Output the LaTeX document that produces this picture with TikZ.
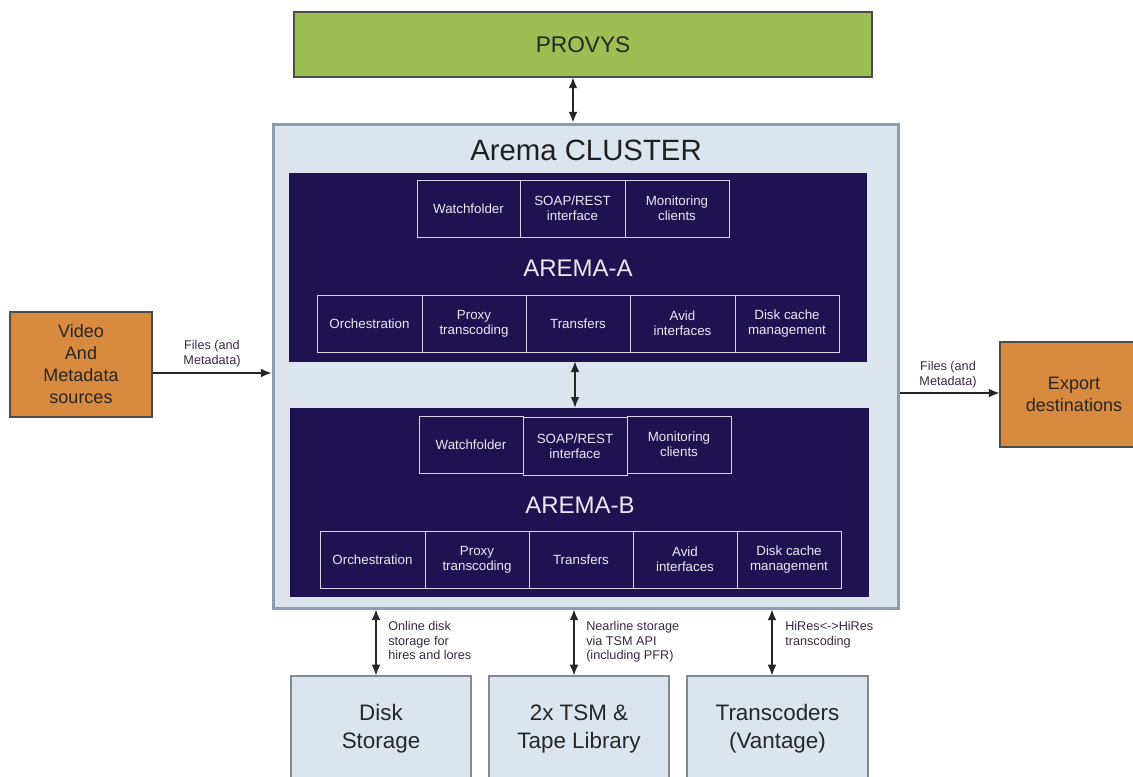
\documentclass[tikz,border=0pt]{standalone}
\usepackage{fontspec}
\setmainfont{Liberation Sans}
\usetikzlibrary{arrows.meta}
\definecolor{provysg}{HTML}{9CBE52}
\definecolor{clusterfill}{HTML}{DCE5EE}
\definecolor{clusterline}{HTML}{8E9CAF}
\definecolor{darkbg}{HTML}{1F1250}
\definecolor{celline}{HTML}{D8D2E6}
\definecolor{celltext}{HTML}{ECE8F4}
\definecolor{orangef}{HTML}{D88A3E}
\definecolor{storeline}{HTML}{7E8A98}
\definecolor{lbltext}{HTML}{3B2A45}
\newcommand\pbox[7]{%
  \pgfmathsetmacro\pbw{abs(#5-#3)*0.75}%
  \pgfmathsetmacro\pbh{abs(#6-#4)*0.75}%
  \node[#1,minimum width=\pbw pt,minimum height=\pbh pt] (#2) at ({(#3+#5)/2},{(#4+#6)/2}) {#7};}
\tikzset{
  provysbox/.style={fill=provysg, draw=black!70, line width=0.8pt, inner sep=0pt, font=\fontsize{17}{20}\selectfont, text=black!85},
  clusterbox/.style={fill=clusterfill, draw=clusterline, line width=2.25pt, inner sep=0pt},
  darkbox/.style={fill=darkbg, draw=darkbg, line width=0.5pt, inner sep=0pt},
  cell/.style={draw=celline, line width=0.75pt, text=celltext, inner sep=0pt, align=center, font=\fontsize{10}{11.5}\selectfont},
  orangebox/.style={fill=orangef, draw=black!70, line width=0.8pt, inner sep=0pt, align=center, font=\fontsize{13.5}{16.5}\selectfont, text=black!85},
  storebox/.style={fill=clusterfill, draw=storeline, line width=0.9pt, inner sep=0pt, align=center, font=\fontsize{16.8}{21}\selectfont, text=black!85},
  lbl/.style={align=left, font=\fontsize{9.5}{11}\selectfont, text=lbltext, inner sep=0pt},
  lblc/.style={align=center, font=\fontsize{9.5}{11}\selectfont, text=lbltext, inner sep=0pt},
  title/.style={inner sep=0pt, text=black!88},
  conn/.style={line width=0.9pt, draw=black!85, {Latex[length=8pt,width=6.5pt]}-{Latex[length=8pt,width=6.5pt]}},
  conn1/.style={line width=0.9pt, draw=black!85, -{Latex[length=8pt,width=6.5pt]}}
}
\begin{document}
\begin{tikzpicture}[x=0.75pt,y=-0.75pt]
\useasboundingbox (0,0) rectangle (1133,776);
\fill[white] (0,0) rectangle (1133,776);
% top
\pbox{provysbox}{provys}{294}{12}{872}{77}{PROVYS}
% cluster
\pbox{clusterbox}{cluster}{273}{124}{898}{608}{}
\node[title, font=\fontsize{22}{26}\selectfont] (ctitle) at (586,150) {Arema CLUSTER};
% AREMA-A
\pbox{darkbox}{aremaA}{289}{173}{866}{361}{}
\pbox{cell}{aW}{417}{180}{520}{237}{Watchfolder}
\pbox{cell}{aS}{520}{180}{625}{237}{SOAP/REST\\interface}
\pbox{cell}{aM}{625}{180}{729}{237}{Monitoring\\clients}
\node[title, text=celltext, font=\fontsize{18}{21}\selectfont] (aname) at (578,268) {AREMA-A};
\pbox{cell}{aO}{317}{295}{422}{352}{Orchestration}
\pbox{cell}{aP}{422}{295}{526}{352}{Proxy\\transcoding}
\pbox{cell}{aT}{526}{295}{630}{352}{Transfers}
\pbox{cell}{aA}{630}{295}{735}{352}{Avid\\interfaces}
\pbox{cell}{aD}{735}{295}{839}{352}{Disk cache\\management}
% AREMA-B
\pbox{darkbox}{aremaB}{290}{408}{868}{596}{}
\pbox{cell}{bW}{419}{416}{523}{473}{Watchfolder}
\pbox{cell}{bS}{523}{417}{627}{475}{SOAP/REST\\interface}
\pbox{cell}{bM}{627}{416}{731}{473}{Monitoring\\clients}
\node[title, text=celltext, font=\fontsize{18}{21}\selectfont] (bname) at (580,505) {AREMA-B};
\pbox{cell}{bO}{320}{531}{425}{588}{Orchestration}
\pbox{cell}{bP}{425}{531}{529}{588}{Proxy\\transcoding}
\pbox{cell}{bT}{529}{531}{633}{588}{Transfers}
\pbox{cell}{bA}{633}{531}{737}{588}{Avid\\interfaces}
\pbox{cell}{bD}{737}{531}{841}{588}{Disk cache\\management}
% sides
\pbox{orangebox}{src}{10}{312}{152}{417}{Video\\And\\Metadata\\sources}
\pbox{orangebox}{export}{1000}{342}{1148}{447}{Export\\destinations}
% bottom
\pbox{storebox}{disk}{291}{676}{471}{782}{Disk\\Storage}
\pbox{storebox}{tsm}{489}{676}{669}{782}{2x TSM \&\\Tape Library}
\pbox{storebox}{trans}{687}{676}{868}{782}{Transcoders\\(Vantage)}
% connectors
\coordinate (xa) at (573,0);
\coordinate (xb) at (575,0);
\coordinate (yl) at (0,373);
\coordinate (yr) at (0,393);
\coordinate (x1) at (376,0);
\coordinate (x2) at (574,0);
\coordinate (x3) at (772,0);
\draw[conn] (provys.south -| xa) -- (cluster.north -| xa);
\draw[conn] (aremaA.south -| xb) -- (aremaB.north -| xb);
\draw[conn1] (src.east |- yl) -- (cluster.west |- yl);
\draw[conn1] (cluster.east |- yr) -- (export.west |- yr);
\draw[conn] (cluster.south -| x1) -- (disk.north -| x1);
\draw[conn] (cluster.south -| x2) -- (tsm.north -| x2);
\draw[conn] (cluster.south -| x3) -- (trans.north -| x3);
% labels
\node[lblc, anchor=south] (lL) at (212,367) {Files (and\\Metadata)};
\node[lblc, anchor=south] (lR) at (948,388) {Files (and\\Metadata)};
\node[lbl, anchor=north west] (l1) at (388,621) {Online disk\\storage for\\hires and lores};
\node[lbl, anchor=north west] (l2) at (586,621) {Nearline storage\\via TSM API\\(including PFR)};
\node[lbl, anchor=north west] (l3) at (785,621) {HiRes<->HiRes\\transcoding};
\end{tikzpicture}
\end{document}
